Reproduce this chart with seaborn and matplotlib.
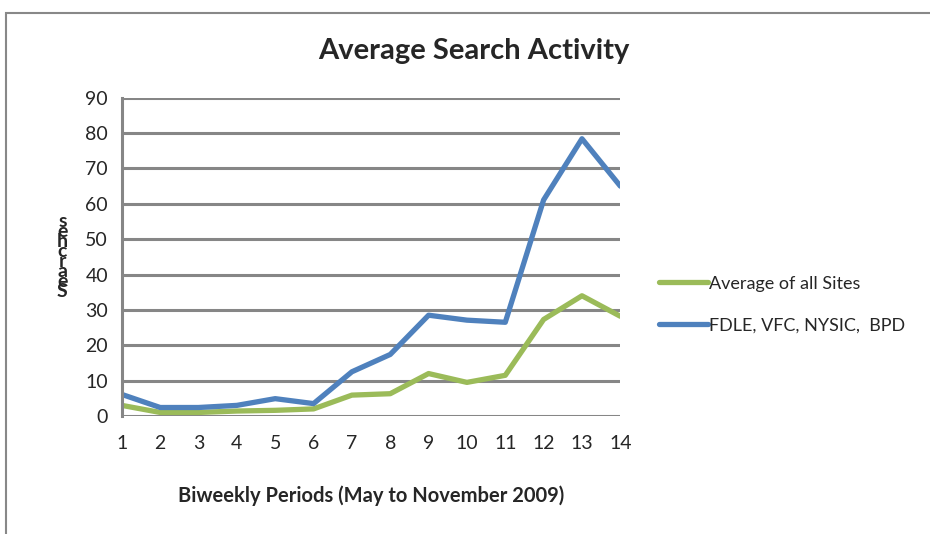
import matplotlib
matplotlib.use("Agg")
from matplotlib import pyplot as plt
from matplotlib.patches import Rectangle
import pandas as pd
import seaborn as sns

periods = list(range(1, 15))
average_all = [3.0, 1.0, 1.0, 1.4, 1.6, 2.0, 5.9, 6.3, 12.0, 9.5, 11.5, 27.3, 34.0, 28.2]
fdle_group = [6.1, 2.4, 2.4, 3.0, 4.9, 3.5, 12.5, 17.4, 28.5, 27.1, 26.5, 61.1, 78.4, 65.0]
series_names = ["Average of all Sites", "FDLE, VFC, NYSIC,  BPD"]
y_ticks = list(range(0, 100, 10))

df = pd.DataFrame({
    "period": periods * 2,
    "searches": average_all + fdle_group,
    "series": [series_names[0]] * 14 + [series_names[1]] * 14,
})

sns.set_style("white")
plt.rcParams['font.family'] = ['Lato', 'DejaVu Sans']

fig = plt.figure(figsize=(9.3, 5.34), dpi=100)
ax = fig.add_axes([0.131, 0.221, 0.536, 0.596])

sns.lineplot(data=df, x="period", y="searches", hue="series",
             palette={series_names[0]: "#9BBB59", series_names[1]: "#4F81BD"},
             linewidth=3.8, ax=ax)

ax.set_xlim(1, 14)
ax.set_ylim(0, 90)
ax.set_xticks(periods)
ax.set_yticks(y_ticks)
ax.tick_params(axis="both", length=0, labelsize=14, pad=10)
ax.tick_params(axis="x", pad=14)
ax.yaxis.grid(True, color="#868686", linewidth=2.2)
ax.xaxis.grid(False)
for s in ["top", "right", "bottom"]:
    ax.spines[s].set_visible(False)
ax.spines["left"].set_color("#868686")
ax.spines["left"].set_linewidth(2.2)
ax.set_xlabel("Biweekly Periods (May to November 2009)", fontsize=14.5, fontweight="bold", labelpad=24)
ax.set_ylabel("")

fig.text(0.51, 0.905, "Average Search Activity", fontsize=21, fontweight="bold",
         ha="center", va="center")

ax.legend(loc="center left", bbox_to_anchor=(1.045, 0.35), frameon=False,
          fontsize=13, handlelength=2.7, handletextpad=0.05, labelspacing=1.45)

# stacked y label as in the original
fig.text(0.067, 0.52, "s\ne\nh\nc\nr\na\ne\nS", fontsize=14, fontweight="bold",
         ha="center", va="center", linespacing=0.5)

# outer chart border
fig.add_artist(Rectangle((0.006, -0.05), 1.1, 1.026, transform=fig.transFigure,
                         fill=False, edgecolor="#888888", linewidth=1.5))

fig.savefig("out.png", dpi=100)
